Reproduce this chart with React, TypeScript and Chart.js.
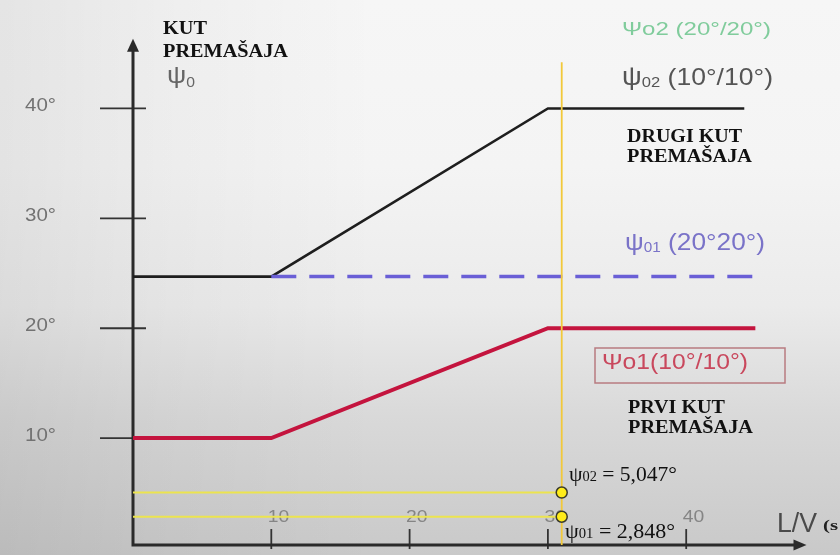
import React, { useEffect, useRef } from "react";
import { Chart, registerables } from "chart.js";

Chart.register(...registerables);

// ---------- data ----------
const blackX = [0, 10, 30, 44.2];
const blackY = [24.7, 24.7, 40, 40];
const redX = [0, 10, 30, 45];
const redY = [10, 10, 20, 20];
const purpleX = [10, 45.4];
const purpleY = [24.7, 24.7];
const markerX = [31, 31];
const markerY = [5.047, 2.848];
const guideTopY = 44.2;
const yTicks = [10, 20, 30, 40];
const yTickLabels = ["10°", "20°", "30°", "40°"];
const xTicks = [10, 20, 30, 40];
const xTickLabels = ["10", "20", "30", "40"];
const axisCrossY = 0.27;
const xAxisEnd = 48.7;
const yAxisEnd = 46.35;

const pts = (xs: number[], ys: number[]) => xs.map((x, i) => ({ x, y: ys[i] }));

type Run = { t: string; font: string; dy?: number };

function drawRuns(
  ctx: CanvasRenderingContext2D,
  runs: Run[],
  x: number,
  y: number,
  color: string,
  targetW?: number
) {
  ctx.save();
  ctx.fillStyle = color;
  ctx.textBaseline = "alphabetic";
  ctx.textAlign = "left";
  let w = 0;
  for (const r of runs) {
    ctx.font = r.font;
    w += ctx.measureText(r.t).width;
  }
  const sx = targetW ? targetW / w : 1;
  ctx.translate(x, y);
  ctx.scale(sx, 1);
  let cx = 0;
  for (const r of runs) {
    ctx.font = r.font;
    ctx.fillText(r.t, cx, r.dy || 0);
    cx += ctx.measureText(r.t).width;
  }
  ctx.restore();
}

const SANS = "'Liberation Sans', Arial, sans-serif";
const SERIF = "'Liberation Serif', 'Times New Roman', serif";

const axesPlugin = {
  id: "axesPlugin",
  beforeDatasetsDraw(chart: any) {
    const ctx: CanvasRenderingContext2D = chart.ctx;
    const xs = chart.scales.x;
    const ys = chart.scales.y;
    const x0 = xs.getPixelForValue(0);
    const y0 = ys.getPixelForValue(axisCrossY);
    const xEnd = xs.getPixelForValue(xAxisEnd);
    const yEnd = ys.getPixelForValue(yAxisEnd);
    ctx.save();
    // tick labels
    yTicks.forEach((v, i) => {
      const py = ys.getPixelForValue(v);
      drawRuns(ctx, [{ t: yTickLabels[i], font: `19px ${SANS}` }], 25, py + 2.5, "#727272", 31);
    });
    xTicks.forEach((v, i) => {
      const px = xs.getPixelForValue(v);
      drawRuns(ctx, [{ t: xTickLabels[i], font: `17px ${SANS}` }], px - 3.5, 522, "#858585", 21.5);
    });
    // tick marks
    ctx.strokeStyle = "#333";
    ctx.lineWidth = 1.8;
    yTicks.forEach((v) => {
      const py = ys.getPixelForValue(v);
      ctx.beginPath();
      ctx.moveTo(x0 - 33, py);
      ctx.lineTo(x0 + 13, py);
      ctx.stroke();
    });
    xTicks.forEach((v) => {
      const px = xs.getPixelForValue(v);
      ctx.beginPath();
      ctx.moveTo(px, y0 - 16);
      ctx.lineTo(px, y0 + 4);
      ctx.stroke();
    });
    // axes
    ctx.strokeStyle = "#2a2a2a";
    ctx.fillStyle = "#2a2a2a";
    ctx.lineWidth = 3;
    ctx.beginPath();
    ctx.moveTo(x0, y0);
    ctx.lineTo(x0, yEnd + 10);
    ctx.moveTo(x0 - 1.5, y0);
    ctx.lineTo(xEnd - 10, y0);
    ctx.stroke();
    ctx.beginPath();
    ctx.moveTo(x0, yEnd);
    ctx.lineTo(x0 - 6, yEnd + 13);
    ctx.lineTo(x0 + 6, yEnd + 13);
    ctx.closePath();
    ctx.fill();
    ctx.beginPath();
    ctx.moveTo(xEnd, y0);
    ctx.lineTo(xEnd - 13, y0 - 5.5);
    ctx.lineTo(xEnd - 13, y0 + 5.5);
    ctx.closePath();
    ctx.fill();
    ctx.restore();
  },
  afterDatasetsDraw(chart: any) {
    const ctx: CanvasRenderingContext2D = chart.ctx;
    const bold = `bold 18px ${SERIF}`;
    // y axis title
    drawRuns(ctx, [{ t: "KUT", font: bold }], 163, 34, "#111", 44);
    drawRuns(ctx, [{ t: "PREMAŠAJA", font: bold }], 163, 57, "#111", 125);
    drawRuns(
      ctx,
      [
        { t: "ψ", font: `24px ${SANS}` },
        { t: "0", font: `14px ${SANS}`, dy: 4 },
      ],
      167,
      83,
      "#666",
      28
    );
    // top right legends
    drawRuns(ctx, [{ t: "Ψo2 (20°/20°)", font: `19px ${SANS}` }], 622, 35, "#80cc9c", 149);
    drawRuns(
      ctx,
      [
        { t: "ψ", font: `25px ${SANS}` },
        { t: "02", font: `15px ${SANS}`, dy: 2 },
        { t: " (10°/10°)", font: `24px ${SANS}` },
      ],
      622,
      85,
      "#555",
      151
    );
    drawRuns(ctx, [{ t: "DRUGI KUT", font: bold }], 627, 142, "#111", 115);
    drawRuns(ctx, [{ t: "PREMAŠAJA", font: bold }], 627, 162, "#111", 125);
    // purple label
    drawRuns(
      ctx,
      [
        { t: "ψ", font: `24px ${SANS}` },
        { t: "01", font: `14px ${SANS}`, dy: 2 },
        { t: " (20°20°)", font: `24px ${SANS}` },
      ],
      625,
      250,
      "#7a73c8",
      140
    );
    // red boxed label
    ctx.save();
    ctx.strokeStyle = "#b87b80";
    ctx.lineWidth = 1.5;
    ctx.strokeRect(595, 348, 190, 35);
    ctx.restore();
    drawRuns(ctx, [{ t: "Ψo1(10°/10°)", font: `22px ${SANS}` }], 602, 369, "#c9485d", 146);
    drawRuns(ctx, [{ t: "PRVI KUT", font: bold }], 628, 413, "#111", 97);
    drawRuns(ctx, [{ t: "PREMAŠAJA", font: bold }], 628, 433, "#111", 125);
    // values
    drawRuns(
      ctx,
      [
        { t: "ψ", font: `21px ${SERIF}` },
        { t: "02", font: `14px ${SERIF}`, dy: 0 },
        { t: " = 5,047°", font: `21px ${SERIF}` },
      ],
      569,
      481,
      "#111",
      108
    );
    drawRuns(
      ctx,
      [
        { t: "ψ", font: `21px ${SERIF}` },
        { t: "01", font: `14px ${SERIF}`, dy: 0 },
        { t: " = 2,848°", font: `21px ${SERIF}` },
      ],
      565,
      538,
      "#111",
      110
    );
    // x axis title
    drawRuns(ctx, [{ t: "L/V", font: `27px ${SANS}` }], 777, 532, "#4a4a4a", 40);
    drawRuns(ctx, [{ t: "(s", font: `bold 15px ${SERIF}` }], 823, 530, "#222", 15);
  },
};

export default function App() {
  const ref = useRef<HTMLCanvasElement | null>(null);
  useEffect(() => {
    if (!ref.current) return;
    const chart = new Chart(ref.current, {
      type: "scatter",
      data: {
        datasets: [
          {
            label: "markers",
            data: pts(markerX, markerY),
            pointRadius: 5.5,
            pointBackgroundColor: "#ffec1a",
            pointBorderColor: "#3a3a2a",
            pointBorderWidth: 1.5,
            showLine: false,
            clip: false,
          } as any,
          {
            label: "guide v",
            data: pts([markerX[0], markerX[0]], [axisCrossY, guideTopY]),
            showLine: true,
            borderColor: "#f2c93a",
            borderWidth: 1.8,
            pointRadius: 0,
            clip: false,
          } as any,
          {
            label: "guide 02",
            data: pts([0, markerX[0]], [markerY[0], markerY[0]]),
            showLine: true,
            borderColor: "#ece44e",
            borderWidth: 2,
            pointRadius: 0,
            clip: false,
          } as any,
          {
            label: "guide 01",
            data: pts([0, markerX[1]], [markerY[1], markerY[1]]),
            showLine: true,
            borderColor: "#ece44e",
            borderWidth: 2,
            pointRadius: 0,
            clip: false,
          } as any,
          {
            label: "psi01 20/20",
            data: pts(purpleX, purpleY),
            showLine: true,
            borderColor: "#6a5fd6",
            borderWidth: 3.5,
            borderDash: [25, 13],
            pointRadius: 0,
            clip: false,
          } as any,
          {
            label: "psi02",
            data: pts(blackX, blackY),
            showLine: true,
            borderColor: "#1e1e1e",
            borderWidth: 2.6,
            pointRadius: 0,
            clip: false,
          } as any,
          {
            label: "psi01 10/10",
            data: pts(redX, redY),
            showLine: true,
            borderColor: "#c4143e",
            borderWidth: 4,
            pointRadius: 0,
            clip: false,
          } as any,
        ],
      },
      options: {
        animation: false,
        responsive: false,
        maintainAspectRatio: false,
        layout: { padding: { left: 133, right: 15.5, top: 9.58, bottom: 2.5 } },
        plugins: { legend: { display: false }, tooltip: { enabled: false } },
        scales: {
          x: { type: "linear", min: 0, max: 50, display: false },
          y: { type: "linear", min: 0, max: 49, display: false },
        },
      },
      plugins: [axesPlugin],
    });
    return () => chart.destroy();
  }, []);
  return (
    <div
      style={{
        position: "fixed",
        left: 0,
        top: 0,
        width: 840,
        height: 555,
        overflow: "hidden",
        background:
          "linear-gradient(90deg, rgba(0,0,0,0.07) 0%, rgba(0,0,0,0.03) 20%, rgba(0,0,0,0) 45%, rgba(0,0,0,0) 100%), linear-gradient(180deg, #f6f6f6 0%, #f4f4f4 30%, #ebebeb 55%, #d9d9d9 75%, #c9c9c9 100%)",
      }}
    >
      <canvas ref={ref} width={840} height={555} style={{ display: "block" }} />
    </div>
  );
}
